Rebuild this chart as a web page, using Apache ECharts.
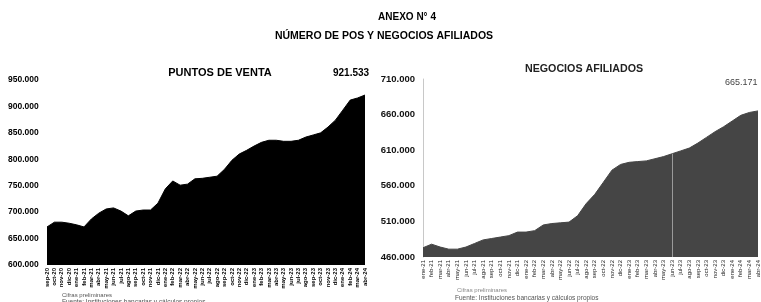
<!DOCTYPE html>
<html>
<head>
<meta charset="utf-8">
<script src="https://cdn.jsdelivr.net/npm/echarts@6/dist/echarts.min.js"></script>
<style>
  html, body { margin: 0; padding: 0; background: #fff; }
  #chart { width: 761px; height: 302px; }
</style>
</head>
<body>
<div id="chart"></div>
<script>
// Puntos de venta (POS), monthly
const posMonths = ['sep-20','oct-20','nov-20','dic-20',
    'ene-21','feb-21','mar-21','abr-21','may-21','jun-21','jul-21','ago-21','sep-21','oct-21','nov-21','dic-21',
    'ene-22','feb-22','mar-22','abr-22','may-22','jun-22','jul-22','ago-22','sep-22','oct-22','nov-22','dic-22',
    'ene-23','feb-23','mar-23','abr-23','may-23','jun-23','jul-23','ago-23','sep-23','oct-23','nov-23','dic-23',
    'ene-24','feb-24','mar-24','abr-24'];
const posValues = [672000, 681000, 681000, 679000, 676000, 672000, 687000, 698000, 706000, 708000,
    702000, 693000, 702000, 704000, 704000, 717000, 744000, 759000, 751000, 753000,
    763000, 764000, 766000, 768000, 781000, 798000, 810000, 817000, 825000, 832000,
    836000, 836000, 834000, 834000, 836000, 842000, 846000, 850000, 861000, 874000,
    893000, 912000, 916000, 921533];
const posTicks = [600000, 650000, 700000, 750000, 800000, 850000, 900000, 950000];

// Negocios afiliados, monthly
const negMonths = ['ene-21','feb-21','mar-21','abr-21','may-21','jun-21','jul-21','ago-21','sep-21','oct-21','nov-21','dic-21',
    'ene-22','feb-22','mar-22','abr-22','may-22','jun-22','jul-22','ago-22','sep-22','oct-22','nov-22','dic-22',
    'ene-23','feb-23','mar-23','abr-23','may-23','jun-23','jul-23','ago-23','sep-23','oct-23','nov-23','dic-23',
    'ene-24','feb-24','mar-24','abr-24'];
const negValues = [473000, 478000, 474000, 471000, 471000, 474000, 479000, 484000, 486000, 488000,
    490000, 495000, 495000, 497000, 505000, 507000, 508000, 509000, 518000, 535000,
    548000, 565000, 582000, 590000, 593000, 594000, 595000, 598000, 601000, 605000,
    609000, 613000, 620000, 628000, 636000, 643000, 651000, 659000, 663000, 665171];
const negTicks = [460000, 510000, 560000, 610000, 660000, 710000];
const negMarkIndex = 29;

const FONT = '"Liberation Sans", Arial, sans-serif';

function fmt(v) {
    return String(Math.round(v)).replace(/\B(?=(\d{3})+(?!\d))/g, '.');
}

const chart = echarts.init(document.getElementById('chart'), null, { renderer: 'canvas' });

const xLabel = {
    interval: 0, rotate: 90, fontSize: 6, fontWeight: 'bold',
    color: '#000', fontFamily: FONT, margin: 3
};

const option = {
    animation: false,
    backgroundColor: '#fff',
    textStyle: { fontFamily: FONT },
    title: [
        { text: 'ANEXO N° 4', left: 402, top: 7, textAlign: 'center',
          textStyle: { fontSize: 10, fontWeight: 'bold', color: '#000' } },
        { text: 'NÚMERO DE POS Y NEGOCIOS AFILIADOS', left: 379, top: 26, textAlign: 'center',
          textStyle: { fontSize: 10.5, fontWeight: 'bold', color: '#000' } },
        { text: 'PUNTOS DE VENTA', left: 215, top: 62, textAlign: 'center',
          textStyle: { fontSize: 11, fontWeight: 'bold', color: '#000' } },
        { text: fmt(posValues[posValues.length - 1]), left: 328, top: 63,
          textStyle: { fontSize: 10, fontWeight: 'bold', color: '#000' } },
        { text: 'NEGOCIOS AFILIADOS', left: 579, top: 59, textAlign: 'center',
          textStyle: { fontSize: 10.7, fontWeight: 'bold', color: '#222' } },
        { text: fmt(negValues[negValues.length - 1]), left: 720, top: 73,
          textStyle: { fontSize: 9, fontWeight: 'normal', color: '#444' } },
        { text: 'Cifras preliminares', left: 57, top: 287,
          textStyle: { fontSize: 6, fontWeight: 'normal', color: '#555' } },
        { text: 'Fuente: Instituciones bancarias y cálculos propios', left: 57, top: 294,
          textStyle: { fontSize: 6.5, fontWeight: 'normal', color: '#555' } },
        { text: 'Cifras preliminares', left: 452, top: 282,
          textStyle: { fontSize: 6, fontWeight: 'normal', color: '#888' } },
        { text: 'Fuente: Instituciones bancarias y cálculos propios', left: 450, top: 290,
          textStyle: { fontSize: 6.5, fontWeight: 'normal', color: '#555' } }
    ],
    grid: [
        { left: 47, right: 396, top: 80, bottom: 37 },
        { left: 423, right: 3, top: 79, bottom: 45 }
    ],
    xAxis: [
        { type: 'category', gridIndex: 0, data: posMonths, boundaryGap: false,
          axisLine: { show: false }, axisTick: { show: false }, axisLabel: xLabel },
        { type: 'category', gridIndex: 1, data: negMonths, boundaryGap: false,
          axisLine: { show: false }, axisTick: { show: false },
          axisLabel: Object.assign({}, xLabel, { fontWeight: 'normal', color: '#222' }) }
    ],
    yAxis: [
        { type: 'value', gridIndex: 0, min: 600000, max: 950000, interval: 50000,
          axisLine: { show: false }, axisTick: { show: false }, splitLine: { show: false },
          axisLabel: { customValues: posTicks, formatter: fmt, fontSize: 8.5, fontWeight: 'bold',
                       color: '#000', align: 'left', margin: 39 } },
        { type: 'value', gridIndex: 1, min: 460000, max: 710000,
          axisLine: { show: true, lineStyle: { color: '#c8c8c8', width: 1 } },
          axisTick: { show: false }, splitLine: { show: false },
          axisLabel: { customValues: negTicks, formatter: fmt, fontSize: 9.5, fontWeight: 'bold',
                       color: '#111', margin: 8 } }
    ],
    series: [
        { type: 'line', xAxisIndex: 0, yAxisIndex: 0, data: posValues,
          showSymbol: false, lineStyle: { width: 1, color: '#000' },
          areaStyle: { color: '#000', opacity: 1 }, origin: 'start' },
        { type: 'line', xAxisIndex: 1, yAxisIndex: 1, data: negValues,
          showSymbol: false, lineStyle: { width: 1, color: '#454545' },
          areaStyle: { color: '#454545', opacity: 1 }, origin: 'start',
          markLine: {
              symbol: 'none', silent: true, label: { show: false },
              lineStyle: { color: '#9a9a9a', width: 1, type: 'solid' },
              data: [[
                  { coord: [negMarkIndex, 460000] },
                  { coord: [negMarkIndex, negValues[negMarkIndex]] }
              ]]
          } }
    ]
};

chart.setOption(option);
</script>
</body>
</html>
